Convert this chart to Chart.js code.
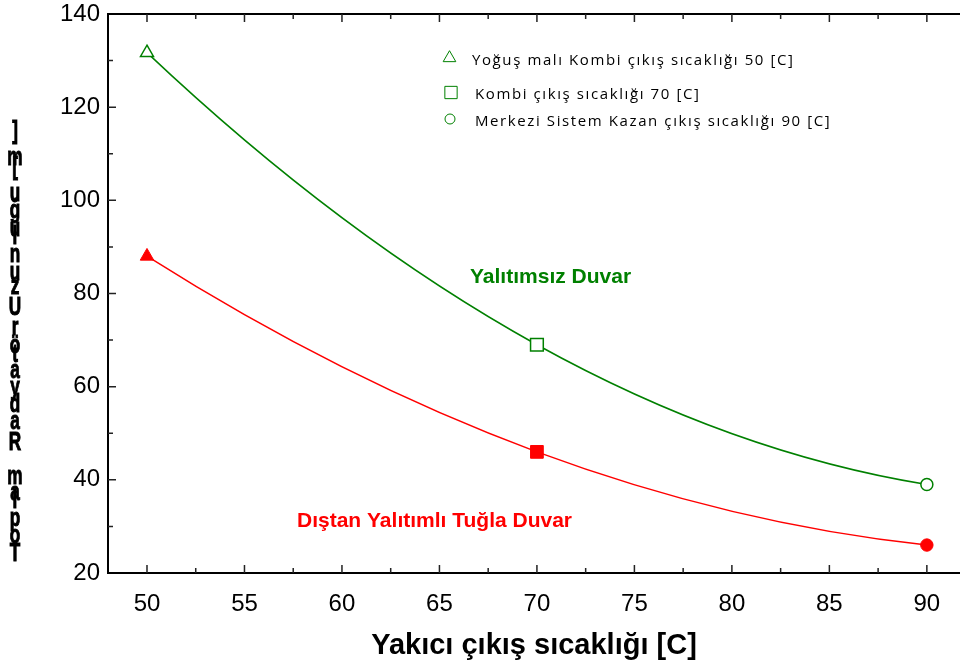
<!DOCTYPE html>
<html>
<head>
<meta charset="utf-8">
<script src="https://cdn.jsdelivr.net/npm/chart.js@4/dist/chart.umd.min.js"></script>
<style>
  html, body { margin: 0; padding: 0; background: #fff; }
  #wrap { width: 960px; height: 670px; position: relative; }
</style>
</head>
<body>
<div id="wrap"><canvas id="myChart"></canvas></div>
<script>
// burner outlet temperature [C]
const temperatures = [50, 70, 90];
// total radiator length [m]
const uninsulatedWall = [131.7, 69, 39];
const insulatedBrickWall = [88, 46, 26];

const xTickValues = [50, 55, 60, 65, 70, 75, 80, 85, 90];
const yTickValues = [20, 40, 60, 80, 100, 120, 140];

const legendLabels = [
    'Yoğuş malı Kombi çıkış sıcaklığı 50 [C]',
    'Kombi çıkış sıcaklığı 70 [C]',
    'Merkezi Sistem Kazan çıkış sıcaklığı 90 [C]'
];
const markerStyles = ['triangle', 'rect', 'circle'];
const xTitle = 'Yakıcı çıkış sıcaklığı [C]';
const yTitle = 'Toplam Radyatör Uzunluğu [m]';

const GREEN = '#008000';
const RED = '#ff0000';

const toPoints = ys => temperatures.map((t, i) => ({ x: t, y: ys[i] }));

// smooth curve through the three points: bezier handles follow the parabola's tangents
const parabolaCurve = {
    id: 'parabolaCurve',
    beforeDatasetDraw(chart, args) {
        const meta = chart.getDatasetMeta(args.index);
        const line = meta.dataset;
        const p = meta.data;
        if (!line || p.length !== 3) return;
        line.updateControlPoints(chart.chartArea);
        const d1 = (p[1].y - p[0].y) / (p[1].x - p[0].x);
        const d2 = (p[2].y - p[1].y) / (p[2].x - p[1].x);
        const k = (d2 - d1) / (p[2].x - p[0].x);
        const slopes = [d1 - k * (p[1].x - p[0].x), d1 + k * (p[1].x - p[0].x), d2 + k * (p[2].x - p[1].x)];
        p.forEach((pt, i) => {
            const hPrev = i > 0 ? (pt.x - p[i - 1].x) / 3 : 0;
            const hNext = i < p.length - 1 ? (p[i + 1].x - pt.x) / 3 : 0;
            pt.cp1x = pt.x - hPrev;
            pt.cp1y = pt.y - slopes[i] * hPrev;
            pt.cp2x = pt.x + hNext;
            pt.cp2y = pt.y + slopes[i] * hNext;
        });
    }
};

// top frame line, inward tick marks, stacked y title, legend and curve labels
const decorations = {
    id: 'decorations',
    afterDraw(chart) {
        const { ctx, chartArea: a, scales: { x, y } } = chart;
        ctx.save();

        ctx.strokeStyle = '#000';
        ctx.lineWidth = 2;
        ctx.beginPath();
        ctx.moveTo(a.left, a.top);
        ctx.lineTo(a.right, a.top);
        ctx.stroke();

        ctx.strokeStyle = '#222';
        ctx.lineWidth = 1.5;
        ctx.beginPath();
        for (let v = 47.5; v <= 91; v += 2.5) {
            if (v < x.min || v > x.max) continue;
            const len = v % 5 === 0 ? 8 : 5;
            const px = x.getPixelForValue(v);
            ctx.moveTo(px, a.bottom);
            ctx.lineTo(px, a.bottom - len);
            ctx.moveTo(px, a.top);
            ctx.lineTo(px, a.top + len);
        }
        for (let v = 30; v < 140; v += 10) {
            const len = v % 20 === 0 ? 8 : 5;
            const py = y.getPixelForValue(v);
            ctx.moveTo(a.left, py);
            ctx.lineTo(a.left + len, py);
        }
        ctx.stroke();

        // y title: upright narrow characters stacked bottom to top,
        // each one moved up by the advance of the characters before it
        ctx.fillStyle = '#000';
        ctx.strokeStyle = '#000';
        ctx.lineWidth = 1;
        ctx.textAlign = 'center';
        ctx.textBaseline = 'middle';
        const chars = Array.from(yTitle);
        ctx.font = 'bold 28px "Liberation Sans"';
        const adv = chars.map(ch => ctx.measureText(ch).width);
        const span = adv.slice(0, -1).reduce((s, w) => s + w, 0);
        const yBottom = 554, yTop = 132;
        ctx.font = 'bold 26px "Liberation Sans"';
        let acc = 0;
        chars.forEach((ch, i) => {
            const cy = yBottom - (yBottom - yTop) * acc / span;
            ctx.save();
            ctx.translate(15, cy);
            ctx.scale(0.66, 1);
            ctx.fillText(ch, 0, 0);
            ctx.strokeText(ch, 0, 0);
            ctx.restore();
            acc += adv[i];
        });

        // legend
        const markerPos = [[449.5, 58], [451, 92.5], [450, 119]];
        const markerRadius = [7.3, 8.7, 5];
        const textY = [60.5, 94.5, 122];
        const textX = [472, 475, 475];
        markerStyles.forEach((style, i) => {
            ctx.fillStyle = '#fff';
            ctx.strokeStyle = GREEN;
            Chart.helpers.drawPoint(ctx, { pointStyle: style, radius: markerRadius[i], borderWidth: 1.5, rotation: 0 },
                markerPos[i][0], markerPos[i][1]);
        });
        ctx.fillStyle = '#000';
        ctx.textAlign = 'left';
        ctx.font = '15px "Open Sans"';
        ctx.letterSpacing = '1.6px';
        legendLabels.forEach((label, i) => ctx.fillText(label, textX[i], textY[i]));
        ctx.letterSpacing = '0px';

        // curve labels
        ctx.font = 'bold 21px "Liberation Sans"';
        ctx.fillStyle = GREEN;
        ctx.fillText('Yalıtımsız Duvar', 470, 277);
        ctx.fillStyle = RED;
        ctx.fillText('Dıştan Yalıtımlı Tuğla Duvar', 297, 521);

        ctx.restore();
    }
};

const ctx = document.getElementById('myChart').getContext('2d');

const myChart = new Chart(ctx, {
    type: 'scatter',
    data: {
        datasets: [
            {
                label: 'Yalıtımsız Duvar',
                data: toPoints(uninsulatedWall),
                showLine: true,
                tension: 0.4,
                borderColor: GREEN,
                borderWidth: 1.5,
                pointStyle: markerStyles,
                pointRadius: [7.5, 9, 6],
                pointBorderWidth: 1.5,
                pointBorderColor: GREEN,
                pointBackgroundColor: '#fff'
            },
            {
                label: 'Dıştan Yalıtımlı Tuğla Duvar',
                data: toPoints(insulatedBrickWall),
                showLine: true,
                tension: 0.4,
                borderColor: RED,
                borderWidth: 1.5,
                pointStyle: markerStyles,
                pointRadius: [7.8, 9, 6.2],
                pointBorderWidth: 1,
                pointBorderColor: RED,
                pointBackgroundColor: RED
            }
        ]
    },
    options: {
        responsive: true,
        maintainAspectRatio: false,
        animation: false,
        layout: { autoPadding: false, padding: { top: 14, right: 0, bottom: 0, left: 0 } },
        plugins: {
            legend: { display: false },
            tooltip: { enabled: false }
        },
        scales: {
            x: {
                type: 'linear',
                min: 48,
                max: 91.7,
                afterBuildTicks: s => { s.ticks = xTickValues.map(v => ({ value: v })); },
                afterFit: s => {
                    s.height = 97;
                    s.paddingLeft = 0;
                    s.paddingRight = 0;
                },
                grid: { display: false, drawTicks: false },
                border: { display: true, color: '#000', width: 2 },
                ticks: {
                    color: '#000',
                    font: { family: 'Liberation Sans', size: 24 },
                    padding: 17,
                    maxRotation: 0,
                    autoSkip: false
                },
                title: {
                    display: true,
                    text: xTitle,
                    color: '#000',
                    font: { family: 'Liberation Sans', size: 29, weight: 'bold' },
                    padding: { top: 0, bottom: 7 }
                }
            },
            y: {
                type: 'linear',
                min: 20,
                max: 140,
                afterBuildTicks: s => { s.ticks = yTickValues.map(v => ({ value: v })); },
                afterFit: s => {
                    s.width = 108;
                    s.paddingTop = 0;
                    s.paddingBottom = 0;
                },
                grid: { display: false, drawTicks: false },
                border: { display: true, color: '#000', width: 2 },
                ticks: {
                    color: '#000',
                    font: { family: 'Liberation Sans', size: 24 },
                    padding: 8
                }
            }
        }
    },
    plugins: [parabolaCurve, decorations]
});
</script>
</body>
</html>
